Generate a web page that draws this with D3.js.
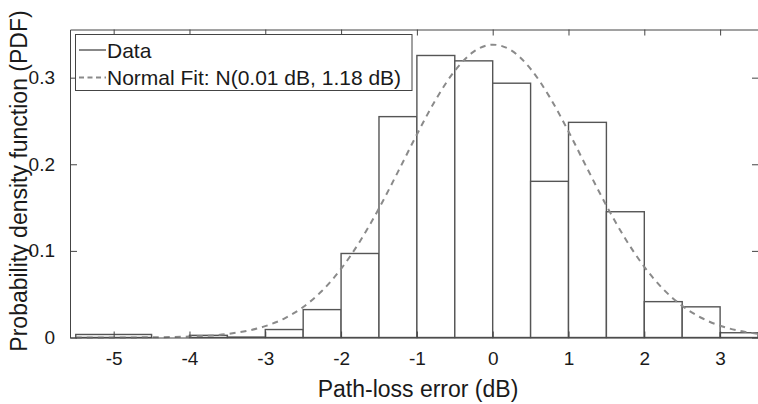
<!DOCTYPE html>
<html>
<head>
<meta charset="utf-8">
<style>
body {margin:0; background:#fff;}
svg {display:block; font-family: Arial, "Liberation Sans", sans-serif;}
</style>
</head>
<body>

<div id="my_dataviz"></div>

<script src="https://d3js.org/d3.v7.min.js"></script>

<script>
// histogram bins (dB) and their density
var binEdges = [-5.5, -4.5, -4, -3.5, -3, -2.5, -2, -1.5, -1, -0.5, 0, 0.5, 1, 1.5, 2, 2.5, 3, 3.5]
var density  = [0.0035, 0, 0.0025, 0.0005, 0.0092, 0.0322, 0.097, 0.255, 0.3256, 0.3194, 0.2936, 0.1803, 0.2484, 0.1452, 0.0414, 0.0354, 0.0055]

// normal fit curve, sampled points
var fitX = [-5.5, -5, -4.5, -4, -3.5, -3, -2.75, -2.5, -2.25, -2, -1.75, -1.5, -1.25, -1, -0.75, -0.5, -0.25, 0, 0.25, 0.5, 0.75, 1, 1.25, 1.5, 1.75, 2, 2.25, 2.5, 2.75, 3, 3.25, 3.5]
var fitY = [0.00001, 0.00004, 0.00023, 0.00105, 0.00405, 0.0131, 0.0219, 0.0352, 0.054, 0.0793, 0.1112, 0.1491, 0.1912, 0.2344, 0.2748, 0.308, 0.33, 0.3381, 0.3312, 0.3102, 0.2778, 0.2378, 0.1946, 0.1523, 0.114, 0.0816, 0.0558, 0.0365, 0.0228, 0.0136, 0.0078, 0.0043]

var xTicks = [-5, -4, -3, -2, -1, 0, 1, 2, 3]
var yTicks = [0, 0.1, 0.2, 0.3]

var legendLabels = ["Data", "Normal Fit: N(0.01 dB, 1.18 dB)"]

var width = 758,
    height = 404,
    mLeft = 70,
    mRight = 759,
    mTop = 29.5,
    mBottom = 337.5

var svg = d3.select("#my_dataviz")
  .append("svg")
    .attr("width", width)
    .attr("height", height)

var x = d3.scaleLinear().domain([-5.576, 3.513]).range([mLeft, mRight])
var y = d3.scaleLinear().domain([0, 0.3556]).range([mBottom, mTop])

var axisColor = "#444"
var barColor = "#555"
var fitColor = "#8a8a8a"
var textColor = "#1a1a1a"

// bars
var bins = density.map(function(d, i) { return {x0: binEdges[i], x1: binEdges[i + 1], v: d} })
svg.selectAll("bars")
  .data(bins)
  .enter()
  .append("rect")
    .attr("x", function(d) { return x(d.x0) })
    .attr("width", function(d) { return x(d.x1) - x(d.x0) })
    .attr("y", function(d) { return y(d.v) })
    .attr("height", function(d) { return y(0) - y(d.v) })
    .attr("fill", "white")
    .attr("stroke", barColor)
    .attr("stroke-width", 1.4)

// fit curve
var line = d3.line()
  .x(function(d) { return x(d[0]) })
  .y(function(d) { return y(d[1]) })
  .curve(d3.curveMonotoneX)

svg.append("path")
  .datum(fitX.map(function(v, i) { return [v, fitY[i]] }))
  .attr("d", line)
  .attr("fill", "none")
  .attr("stroke", fitColor)
  .attr("stroke-width", 2)
  .attr("stroke-dasharray", "6,5")

// axes (MATLAB style: inward ticks on all four sides)
var xAxisB = d3.axisBottom(x).tickValues(xTicks).tickSizeInner(-6).tickSizeOuter(0).tickPadding(14)
  .tickFormat(function(d) { return String(d) })
var xAxisT = d3.axisTop(x).tickValues(xTicks).tickSizeInner(-6).tickSizeOuter(0).tickFormat("")
var yAxisL = d3.axisLeft(y).tickValues(yTicks).tickSizeInner(-7).tickSizeOuter(0).tickPadding(15)
  .tickFormat(function(d) { return d === 0 ? "0" : d.toFixed(1) })
var yAxisR = d3.axisRight(y).tickValues(yTicks).tickSizeInner(-7).tickSizeOuter(0).tickFormat("")

function style(g) {
  g.select(".domain").attr("stroke", axisColor).attr("stroke-width", 1)
  g.selectAll(".tick line").attr("stroke", axisColor)
  g.selectAll(".tick text").attr("fill", textColor).style("font-size", "19px")
    .style("font-family", "Arial, 'Liberation Sans', sans-serif")
}

svg.append("g").attr("transform", "translate(0," + mBottom + ")").call(xAxisB).call(style)
svg.append("g").attr("transform", "translate(0," + mTop + ")").call(xAxisT).call(style)
svg.append("g").attr("transform", "translate(" + mLeft + ",0)").call(yAxisL).call(style)
svg.append("g").attr("transform", "translate(" + mRight + ",0)").call(yAxisR).call(style)

// axis labels
svg.append("text")
  .attr("x", 418)
  .attr("y", 396.5)
  .attr("text-anchor", "middle")
  .attr("fill", textColor)
  .style("font-size", "23px")
  .text("Path-loss error (dB)")

svg.append("text")
  .attr("transform", "translate(26.5,181) rotate(-90)")
  .attr("text-anchor", "middle")
  .attr("fill", textColor)
  .style("font-size", "23px")
  .text("Probability density function (PDF)")

// legend
var lg = svg.append("g")
lg.append("rect")
  .attr("x", 75.5).attr("y", 34.5)
  .attr("width", 336.5).attr("height", 56)
  .attr("fill", "white")
  .attr("stroke", axisColor)
  .attr("stroke-width", 1)

lg.append("line")
  .attr("x1", 79).attr("x2", 106).attr("y1", 50).attr("y2", 50)
  .attr("stroke", barColor).attr("stroke-width", 1.4)
lg.append("line")
  .attr("x1", 79).attr("x2", 106).attr("y1", 77.5).attr("y2", 77.5)
  .attr("stroke", fitColor).attr("stroke-width", 2).attr("stroke-dasharray", "5,3.5")

lg.selectAll("legendText")
  .data(legendLabels)
  .enter()
  .append("text")
    .attr("x", 107)
    .attr("y", function(d, i) { return 57.5 + i * 27.5 })
    .attr("fill", textColor)
    .style("font-size", "21px")
    .text(function(d) { return d })
</script>
</body>
</html>
